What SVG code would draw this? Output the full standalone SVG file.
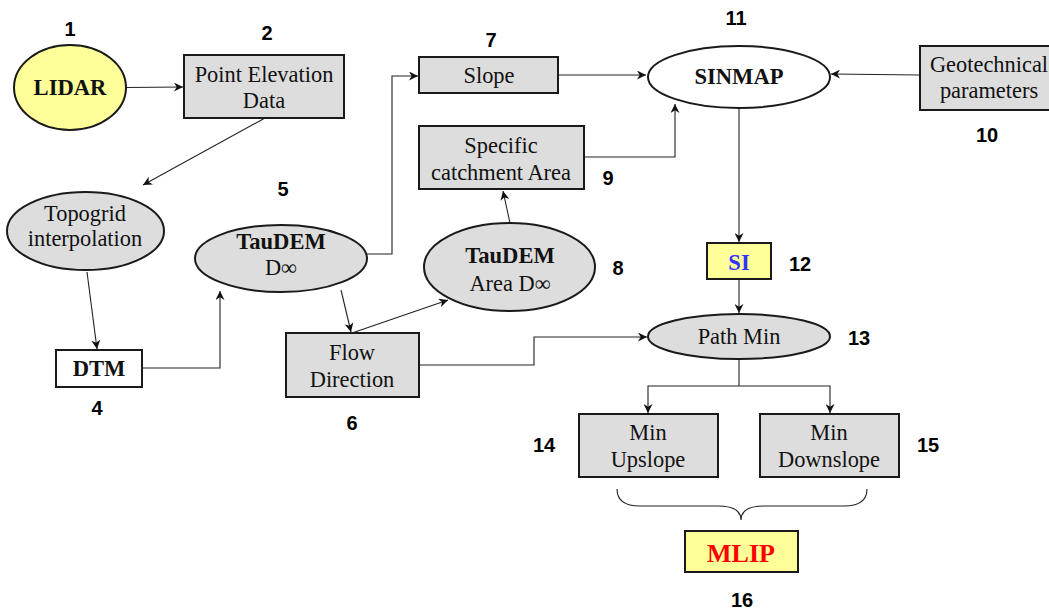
<svg xmlns="http://www.w3.org/2000/svg" width="1049" height="611" viewBox="0 0 1049 611">
<defs>
<marker id="ah" viewBox="0 0 10 10" refX="10" refY="5" markerWidth="9" markerHeight="9" markerUnits="userSpaceOnUse" orient="auto">
<path d="M0,0 L10,5 L0,10 L3,5 z" fill="#111"/>
</marker>
<style>
.box{fill:#dddddd;stroke:#1a1a1a;stroke-width:2}
.yel{fill:#ffff99;stroke:#1a1a1a;stroke-width:2}
.wht{fill:#ffffff;stroke:#1a1a1a;stroke-width:2}
.t{font-family:"Liberation Serif","Times New Roman",serif;font-size:22.4px;fill:#111;text-anchor:middle}
.b{font-family:"Liberation Serif","Times New Roman",serif;font-size:22.6px;font-weight:bold;fill:#111;text-anchor:middle}
.n{font-family:"Liberation Sans",Arial,sans-serif;font-size:20px;font-weight:bold;fill:#000;text-anchor:middle}
.c{fill:none;stroke:#222;stroke-width:1.1;marker-end:url(#ah)}
</style>
</defs>
<rect width="1049" height="611" fill="#ffffff"/>
<g id="connectors">
<line class="c" x1="126" y1="87.5" x2="183" y2="87"/>
<line class="c" x1="265" y1="118" x2="143" y2="185"/>
<line class="c" x1="87" y1="272" x2="97" y2="349"/>
<polyline class="c" points="142,368 220,368 220,291"/>
<polyline class="c" points="367,254 392,254 392,76 418,76"/>
<line class="c" x1="558" y1="75" x2="646" y2="75"/>
<line class="c" x1="920" y1="75" x2="831" y2="74"/>
<polyline class="c" points="584,157 675,157 675,104"/>
<line class="c" x1="510" y1="223" x2="503" y2="191"/>
<line class="c" x1="341" y1="290" x2="351" y2="332"/>
<line class="c" x1="352" y1="333" x2="448" y2="300"/>
<polyline class="c" points="419,365 534,365 534,337 647,337"/>
<line class="c" x1="739" y1="108" x2="739" y2="242"/>
<line class="c" x1="739" y1="279" x2="739" y2="313"/>
<line style="fill:none;stroke:#222;stroke-width:1.1" x1="739" y1="359" x2="739" y2="386"/>
<polyline class="c" points="739,386 648,386 648,413"/>
<polyline class="c" points="739,386 830,386 830,413"/>
<path d="M617,489 Q617,506 640,506 L718,506 Q741,506 741,520 Q741,506 764,506 L844,506 Q867,506 867,489" fill="none" stroke="#222" stroke-width="1.1"/>
</g>
<g id="n1"><ellipse class="yel" cx="70" cy="87.5" rx="56" ry="42.5"/><text class="b" x="70" y="95">LIDAR</text><text class="n" x="70" y="36">1</text></g>
<g id="n2"><rect class="box" x="184" y="55" width="160" height="63"/><text class="t" x="264" y="82">Point Elevation</text><text class="t" x="264" y="108">Data</text><text class="n" x="267" y="40">2</text></g>
<g id="n3"><ellipse class="box" cx="85.5" cy="231" rx="78.5" ry="39"/><text class="t" x="85" y="221">Topogrid</text><text class="t" x="85" y="246">interpolation</text></g>
<g id="n4"><rect class="wht" x="56" y="350" width="86" height="37"/><text class="b" x="99" y="376">DTM</text><text class="n" x="97" y="415">4</text></g>
<g id="n5"><ellipse class="box" cx="281" cy="258.5" rx="86" ry="33.5"/><text class="b" x="281" y="249">TauDEM</text><text class="t" x="281" y="275">D∞</text><text class="n" x="283" y="196">5</text></g>
<g id="n6"><rect class="box" x="286" y="333" width="133" height="64"/><text class="t" x="352" y="360">Flow</text><text class="t" x="352" y="387">Direction</text><text class="n" x="352" y="430">6</text></g>
<g id="n7"><rect class="box" x="419" y="57" width="139" height="36"/><text class="t" x="489" y="83">Slope</text><text class="n" x="491" y="47">7</text></g>
<g id="n8"><ellipse class="box" cx="509.5" cy="267" rx="85.5" ry="44"/><text class="b" x="510" y="263">TauDEM</text><text class="t" x="510" y="291">Area D∞</text><text class="n" x="618" y="275">8</text></g>
<g id="n9"><rect class="box" x="419" y="126" width="165" height="63"/><text class="t" x="501" y="153">Specific</text><text class="t" x="501" y="180">catchment Area</text><text class="n" x="608" y="185">9</text></g>
<g id="n10"><rect class="box" x="920" y="46" width="132" height="64"/><text class="t" x="989" y="72">Geotechnical</text><text class="t" x="989" y="98">parameters</text><text class="n" x="987" y="142">10</text></g>
<g id="n11"><ellipse class="wht" cx="739" cy="77" rx="91" ry="31"/><text class="b" x="739" y="84">SINMAP</text><text class="n" x="736" y="25">11</text></g>
<g id="n12"><rect class="yel" x="707" y="243" width="64" height="36"/><text class="b" x="739" y="270" style="fill:#3333ff">SI</text><text class="n" x="800" y="271">12</text></g>
<g id="n13"><ellipse class="box" cx="739" cy="336.5" rx="91" ry="22.5"/><text class="t" x="739" y="344">Path Min</text><text class="n" x="859" y="345">13</text></g>
<g id="n14"><rect class="box" x="579" y="414" width="139" height="63"/><text class="t" x="648" y="440">Min</text><text class="t" x="648" y="467">Upslope</text><text class="n" x="544" y="452">14</text></g>
<g id="n15"><rect class="box" x="760" y="414" width="139" height="63"/><text class="t" x="829" y="440">Min</text><text class="t" x="829" y="467">Downslope</text><text class="n" x="928" y="452">15</text></g>
<g id="n16"><rect class="yel" x="685" y="531" width="113" height="41"/><text class="b" x="741" y="562" style="fill:#ff0000;font-size:26px">MLIP</text><text class="n" x="742" y="607">16</text></g>
</svg>
